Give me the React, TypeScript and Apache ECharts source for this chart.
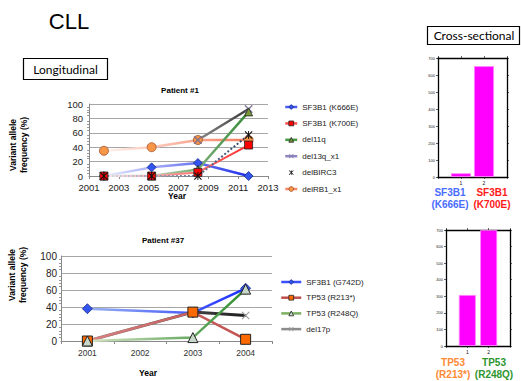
import React, { useEffect, useRef } from 'react';
import * as echarts from 'echarts';

// Patient #1 (longitudinal, continuous year axis)
const p1Years = [2002, 2005.2, 2008.3, 2011.7];
const p1AxisStart = 2001;
const p1_SF3B1_K666E = [0, 12, 18, 0];
const p1_SF3B1_K700E = [0, 0, 5, 43];
const p1_del11q = [0, 0, 9, 89];
const p1_del13q = [null, null, 50, 93];
const p1_delBIRC3 = [0, 0, 0, 57];
const p1_delRB1 = [35, 40, 50, 50];

// Patient #37 (category year axis)
const p37Years = ['2001', '2002', '2003', '2004'];
const p37_SF3B1_G742D = [38, null, 33, 62];
const p37_TP53_R213 = [0, null, 34, 2];
const p37_TP53_R248Q = [0, null, 4, 61];
const p37_del17p = [0, null, 34, 30];

// Cross-sectional bars
const csPositions = [1, 2];
const cs1Values = [22, 652];
const cs2Values = [308, 700];

const FONT = 'Liberation Sans, Arial, sans-serif';
const XPATH = 'path://M1,0 L5,4 L9,0 L10,1 L6,5 L10,9 L9,10 L5,6 L1,10 L0,9 L4,5 L0,1 Z';
const STAR = 'path://M1,0 L5,4 L9,0 L10,1 L6,5 L10,9 L9,10 L5,6 L1,10 L0,9 L4,5 L0,1 Z M4.4,0 L5.6,0 L5.6,10 L4.4,10 Z';

function grad(a: string, b: string) {
  return new echarts.graphic.LinearGradient(0, 0, 1, 0, [
    { offset: 0, color: a },
    { offset: 1, color: b },
  ]);
}

function p1Points(vals: (number | null)[]) {
  const out: number[][] = [];
  vals.forEach((v, i) => {
    if (v !== null) out.push([p1Years[i] - p1AxisStart, v]);
  });
  return out;
}

export default function App() {
  const ref = useRef<HTMLDivElement>(null);
  useEffect(() => {
    document.body.style.margin = '0';
    const chart = echarts.init(ref.current!, null, { renderer: 'svg' });

    const lineBase = (name: string, xi: number) => ({
      name,
      type: 'line',
      xAxisIndex: xi,
      yAxisIndex: xi,
      connectNulls: true,
      z: 3,
    });

    const valueYAxis = (gi: number) => ({
      gridIndex: gi,
      type: 'value',
      min: 0,
      max: 100,
      interval: 20,
      axisLine: { show: true, lineStyle: { color: '#888', width: 1 } },
      axisTick: { show: false },
      minorTick: { show: true, splitNumber: 5, length: 2, lineStyle: { color: '#999' } },
      axisLabel: { fontSize: gi === 0 ? 9.5 : 10, color: '#222', fontFamily: FONT, margin: gi === 0 ? 6 : 4 },
      splitLine: { show: true, lineStyle: { color: '#a6a6a6', width: 1 } },
    });

    const barX = (gi: number, top: boolean) => ({
      gridIndex: gi,
      type: 'value',
      min: 0,
      max: 3,
      interval: 1,
      position: top ? 'top' : 'bottom',
      axisLine: { show: true, onZero: false, lineStyle: { color: '#000', width: 1.3 } },
      axisTick: { show: true, length: 2, lineStyle: { color: '#000', width: 0.6 } },
      axisLabel: {
        show: !top,
        fontSize: 5,
        margin: 3,
        color: '#111',
        fontFamily: FONT,
        formatter: (v: number) => (csPositions.indexOf(v) >= 0 ? String(v) : ''),
      },
      splitLine: { show: false },
    });
    const barY = (gi: number, right: boolean) => ({
      gridIndex: gi,
      type: 'value',
      min: 0,
      max: 700,
      interval: 100,
      position: right ? 'right' : 'left',
      axisLine: { show: true, onZero: false, lineStyle: { color: '#000', width: 1.3 } },
      axisTick: { show: true, length: 2, lineStyle: { color: '#000', width: 0.6 } },
      axisLabel: { show: !right, fontSize: 4, margin: 3, color: '#222', fontFamily: FONT },
      splitLine: { show: false },
    });

    const lg = (name: string, line: string, fill: string, border?: string, symbolSize?: number) => ({
      name,
      lineStyle: { color: line, width: 2.5, type: 'solid', opacity: 1 },
      itemStyle: { color: fill, borderColor: border || fill, borderWidth: border ? 0.8 : 0 },
    });

    const option: any = {
      animation: false,
      backgroundColor: '#fff',
      textStyle: { fontFamily: FONT },
      grid: [
        { left: 89, top: 104, width: 179, height: 72, containLabel: false, outerBoundsMode: 'none' },
        { left: 61, top: 256, width: 211, height: 85, containLabel: false, outerBoundsMode: 'none' },
        { left: 438, top: 58, width: 69, height: 119, containLabel: false, outerBoundsMode: 'none' },
        { left: 446, top: 230, width: 64, height: 116, containLabel: false, outerBoundsMode: 'none' },
      ],
      xAxis: [
        {
          gridIndex: 0,
          type: 'value',
          min: 0,
          max: 12,
          interval: 2,
          axisLine: { show: true, onZero: false, lineStyle: { color: '#888' } },
          axisTick: { show: true, length: 3, lineStyle: { color: '#888' } },
          axisLabel: {
            fontSize: 9.5,
            color: '#222',
            fontFamily: FONT,
            margin: 6,
            formatter: (v: number) => String(v + p1AxisStart),
          },
          splitLine: { show: false },
        },
        {
          gridIndex: 1,
          type: 'category',
          data: p37Years,
          boundaryGap: true,
          axisLine: { show: true, onZero: false, lineStyle: { color: '#888' } },
          axisTick: { show: true, length: 3, lineStyle: { color: '#888' } },
          axisLabel: { fontSize: 8.5, color: '#333', fontFamily: FONT, margin: 7 },
          splitLine: { show: false },
        },
        barX(2, false),
        barX(2, true),
        barX(3, false),
        barX(3, true),
      ],
      yAxis: [valueYAxis(0), valueYAxis(1), barY(2, false), barY(2, true), barY(3, false), barY(3, true)],
      legend: [
        {
          data: [
            lg('SF3B1 (K666E)', '#4a5cf0', '#3355ee', '#1a2a88'),
            lg('SF3B1 (K700E)', '#ff5050', '#ff0000', '#222'),
            lg('del11q', '#4a9a4a', '#7a9a3a', '#222'),
            lg('del13q_x1', '#8c86c0', '#8878b0'),
            lg('delBIRC3', '#ffffff', '#111'),
            lg('delRB1_x1', '#f48a6a', '#f79646', '#a0522d'),
          ],
          orient: 'vertical',
          left: 284,
          top: 102,
          padding: 0,
          itemWidth: 12,
          itemHeight: 6,
          itemGap: 6.4,
          textStyle: { fontSize: 8, color: '#222', fontFamily: FONT, lineHeight: 10 },
        },
        {
          data: [
            lg('SF3B1 (G742D)', '#3a50ff', '#3355ee', '#1a2a88'),
            lg('TP53 (R213*)', '#c0504d', '#ff6a00', '#222'),
            lg('TP53 (R248Q)', '#7ab060', '#c8d8c8', '#222'),
            lg('del17p', '#8c8c8c', '#9a9a9a'),
          ],
          orient: 'vertical',
          left: 280,
          top: 277,
          padding: 0,
          itemWidth: 20,
          itemHeight: 6,
          itemGap: 5.7,
          textStyle: { fontSize: 8, color: '#222', fontFamily: FONT, lineHeight: 10 },
        },
      ],
      series: [
        // Patient #1
        {
          ...lineBase('delRB1_x1', 0),
          data: p1Points(p1_delRB1),
          symbol: 'circle',
          symbolSize: 9,
          lineStyle: { width: 2.5, color: grad('#fff4ef', '#f47a5a') },
          itemStyle: { color: '#f79646', borderColor: '#a0522d', borderWidth: 0.8 },
        },
        {
          ...lineBase('del13q_x1', 0),
          data: p1Points(p1_del13q),
          symbol: XPATH,
          symbolSize: 8,
          lineStyle: { width: 2.5, color: grad('#8a8a8a', '#3a3a3a') },
          itemStyle: { color: '#8878b0', borderColor: '#555', borderWidth: 0.3 },
        },
        {
          ...lineBase('SF3B1 (K666E)', 0),
          data: p1Points(p1_SF3B1_K666E),
          symbol: 'diamond',
          symbolSize: 9,
          lineStyle: { width: 2.5, color: grad('#eceefc', '#1f2fe8') },
          itemStyle: { color: '#3355ee', borderColor: '#1a2a88', borderWidth: 0.8 },
        },
        {
          ...lineBase('del11q', 0),
          data: p1Points(p1_del11q),
          symbol: 'triangle',
          symbolSize: 8,
          lineStyle: { width: 2.5, color: grad('#eef4ea', '#3a8a3a') },
          itemStyle: { color: '#7a9a3a', borderColor: '#222', borderWidth: 0.8 },
        },
        {
          ...lineBase('SF3B1 (K700E)', 0),
          data: p1Points(p1_SF3B1_K700E),
          symbol: 'rect',
          symbolSize: 8,
          lineStyle: { width: 2, color: grad('#ffeeee', '#ff2a2a') },
          itemStyle: { color: '#ff0000', borderColor: '#222', borderWidth: 0.8 },
        },
        {
          ...lineBase('delBIRC3', 0),
          data: p1Points(p1_delBIRC3),
          symbol: STAR,
          symbolSize: 8,
          lineStyle: { width: 2, type: 'dotted', color: grad('#d8dce6', '#2a3f6a') },
          itemStyle: { color: '#111' },
        },
        // Patient #37
        {
          ...lineBase('SF3B1 (G742D)', 1),
          data: p37_SF3B1_G742D,
          symbol: 'diamond',
          symbolSize: 10,
          lineStyle: { width: 2.5, color: grad('#9ab4f0', '#1a2cff') },
          itemStyle: { color: '#3355ee', borderColor: '#1a2a88', borderWidth: 0.8 },
        },
        {
          ...lineBase('del17p', 1),
          data: p37_del17p,
          symbol: XPATH,
          symbolSize: 8,
          lineStyle: { width: 3, color: grad('#8c8c8c', '#1e1e1e') },
          itemStyle: { color: '#9a9a9a' },
        },
        {
          ...lineBase('TP53 (R213*)', 1),
          data: p37_TP53_R213,
          symbol: 'rect',
          symbolSize: 10,
          lineStyle: { width: 2.5, color: grad('#d88080', '#c0504d') },
          itemStyle: { color: '#ff6a00', borderColor: '#222', borderWidth: 1 },
        },
        {
          ...lineBase('TP53 (R248Q)', 1),
          data: p37_TP53_R248Q,
          symbol: 'triangle',
          symbolSize: 10,
          lineStyle: { width: 2.5, color: grad('#d8e6c8', '#2e8b2e') },
          itemStyle: { color: '#c8d8c8', borderColor: '#222', borderWidth: 1 },
        },
        // Cross-sectional bars
        {
          name: 'cs1',
          type: 'bar',
          xAxisIndex: 2,
          yAxisIndex: 2,
          data: csPositions.map((p, i) => [p, cs1Values[i]]),
          barWidth: 20,
          itemStyle: { color: '#ff00ff', borderColor: '#ff88ff', borderWidth: 0.8 },
        },
        {
          name: 'cs2',
          type: 'bar',
          xAxisIndex: 4,
          yAxisIndex: 4,
          data: csPositions.map((p, i) => [p, cs2Values[i]]),
          barWidth: 17,
          itemStyle: { color: '#ff00ff', borderColor: '#ff88ff', borderWidth: 0.8 },
        },
      ],
      graphic: [
        { type: 'text', x: 69, y: 21, style: { text: 'CLL', fontSize: 22, fontFamily: FONT, fill: '#000', align: 'center', verticalAlign: 'middle' } },
        { type: 'rect', shape: { x: 23.5, y: 58.5, width: 84, height: 21 }, style: { fill: 'none', stroke: '#000', lineWidth: 1.2 } },
        { type: 'text', x: 65.5, y: 69, style: { text: 'Longitudinal', fontSize: 12, fontFamily: 'Lato, sans-serif', fill: '#000', align: 'center', verticalAlign: 'middle' } },
        { type: 'rect', shape: { x: 427.5, y: 26.5, width: 92, height: 18 }, style: { fill: 'none', stroke: '#000', lineWidth: 1.2 } },
        { type: 'text', x: 474, y: 35.5, style: { text: 'Cross-sectional', fontSize: 12, fontFamily: 'Lato, sans-serif', fill: '#000', align: 'center', verticalAlign: 'middle' } },
        { type: 'text', x: 180, y: 90, style: { text: 'Patient #1', fontSize: 8, fontWeight: 'bold', fontFamily: FONT, fill: '#000', align: 'center', verticalAlign: 'middle' } },
        { type: 'text', x: 163, y: 240, style: { text: 'Patient #37', fontSize: 8, fontWeight: 'bold', fontFamily: FONT, fill: '#000', align: 'center', verticalAlign: 'middle' } },
        { type: 'text', x: 177, y: 196, style: { text: 'Year', fontSize: 8.5, fontWeight: 'bold', fontFamily: FONT, fill: '#000', align: 'center', verticalAlign: 'middle' } },
        { type: 'text', x: 148, y: 373, style: { text: 'Year', fontSize: 8.5, fontWeight: 'bold', fontFamily: FONT, fill: '#000', align: 'center', verticalAlign: 'middle' } },
        { type: 'text', x: 18, y: 145, rotation: Math.PI / 2, style: { text: 'Variant allele\nfrequency (%)', fontSize: 8.5, lineHeight: 11, fontWeight: 'bold', fontFamily: FONT, fill: '#000', align: 'center', verticalAlign: 'middle' } },
        { type: 'text', x: 17, y: 275, rotation: Math.PI / 2, style: { text: 'Variant allele\nfrequency (%)', fontSize: 8.5, lineHeight: 11, fontWeight: 'bold', fontFamily: FONT, fill: '#000', align: 'center', verticalAlign: 'middle' } },
        { type: 'text', x: 450, y: 198, style: { text: 'SF3B1\n(K666E)', fontSize: 10, lineHeight: 12, fontWeight: 'bold', fontFamily: FONT, fill: '#4a6cff', align: 'center', verticalAlign: 'middle' } },
        { type: 'text', x: 492, y: 198, style: { text: 'SF3B1\n(K700E)', fontSize: 10, lineHeight: 12, fontWeight: 'bold', fontFamily: FONT, fill: '#ff1a1a', align: 'center', verticalAlign: 'middle' } },
        { type: 'text', x: 453, y: 368, style: { text: 'TP53\n(R213*)', fontSize: 10, lineHeight: 12, fontWeight: 'bold', fontFamily: FONT, fill: '#ff8a33', align: 'center', verticalAlign: 'middle' } },
        { type: 'text', x: 494, y: 368, style: { text: 'TP53\n(R248Q)', fontSize: 10, lineHeight: 12, fontWeight: 'bold', fontFamily: FONT, fill: '#2e962e', align: 'center', verticalAlign: 'middle' } },
      ],
    };
    chart.setOption(option);
    return () => chart.dispose();
  }, []);
  return <div ref={ref} style={{ width: 521, height: 381 }} />;
}
